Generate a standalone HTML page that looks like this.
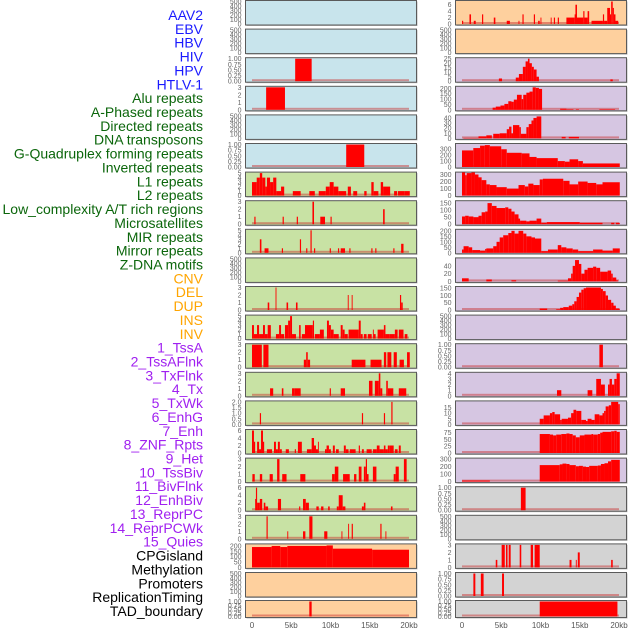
<!DOCTYPE html>
<html><head><meta charset="utf-8"><style>
html,body{margin:0;padding:0;background:#fff;width:630px;height:630px;overflow:hidden}
svg{display:block}
</style></head><body>
<svg id="chart" width="630" height="630" viewBox="0 0 630 630" xmlns="http://www.w3.org/2000/svg"></svg>
<script>
// ---- labels ----
const labels = ["AAV2","EBV","HBV","HIV","HPV","HTLV-1","Alu repeats","A-Phased repeats","Directed repeats","DNA transposons","G-Quadruplex forming repeats","Inverted repeats","L1 repeats","L2 repeats","Low_complexity A/T rich regions","Microsatellites","MIR repeats","Mirror repeats","Z-DNA motifs","CNV","DEL","DUP","INS","INV","1_TssA","2_TssAFlnk","3_TxFlnk","4_Tx","5_TxWk","6_EnhG","7_Enh","8_ZNF_Rpts","9_Het","10_TssBiv","11_BivFlnk","12_EnhBiv","13_ReprPC","14_ReprPCWk","15_Quies","CPGisland","Methylation","Promoters","ReplicationTiming","TAD_boundary"];
const labelGroups = ["v","v","v","v","v","v","r","r","r","r","r","r","r","r","r","r","r","r","r","s","s","s","s","s","c","c","c","c","c","c","c","c","c","c","c","c","c","c","c","k","k","k","k","k"];

// ---- tick label sets ----
const tEmpty = ["0","100","200","300","400","500"];
const tFrac = ["0.00","0.25","0.50","0.75","1.00"];
const t3 = ["0","1","2","3"];
const t4 = ["0","1","2","3","4"];
const t5 = ["0","1","2","3","4","5"];
const t6 = ["0","2","4","6"];
const t2 = ["0.0","0.5","1.0","1.5","2.0"];
const xTicks = [0,5,10,15,20];
const xTickLabels = ["0","5kb","10kb","15kb","20kb"];

// ---- data segments [startKb, endKb, value] ----
const L0=[],L1=[],L4=[],L9=[],L20=[],R1=[],R11=[],R18=[];
const L2=[[5.5,7.6,1]];
const L3=[[1.8,4.2,3]];
const L5=[[12.0,14.3,1]];
const L6=[[0,0.6,3],[0.6,1.0,4],[1.0,1.3,5],[1.3,1.7,4],[1.7,1.9,2],[1.9,2.3,4],[2.3,2.7,3],[2.7,3.1,4],[3.1,3.7,1],[3.7,4.1,2],[5.2,6.2,1],[7.3,8.0,1],[8.5,9.4,1],[9.4,9.9,2],[9.9,10.4,3],[10.4,11.0,2],[11.0,12.0,1],[12.2,12.6,2],[12.9,13.4,1],[14.3,14.6,1],[15.2,15.5,3],[15.5,16.1,1],[16.4,16.7,3],[16.7,17.6,2],[18.1,18.5,1],[18.6,19.4,1],[19.4,20.1,1]];
const L7=[[0.3,0.45,1],[3.9,4.05,1],[5.7,5.85,1],[7.7,7.9,3],[8.7,9.3,1],[10.0,10.15,1],[16.7,16.9,2]];
const L8=[[1.0,1.2,3],[1.6,2.1,1],[3.8,3.95,1],[6.1,6.25,3],[6.9,7.05,1],[7.45,7.6,5],[7.9,8.05,1],[9.9,10.05,1],[10.95,11.1,1],[11.3,11.85,1],[12.4,12.55,1],[15.2,15.35,1],[15.7,15.85,1],[18.0,18.15,1],[19.0,19.3,2]];
const L10=[[2.0,2.2,1],[3.0,3.1,3],[4.4,4.6,1],[5.6,5.8,1],[12.2,12.3,2],[12.7,12.8,2],[18.85,19.0,2],[19.0,19.2,1]];
const L11=[[0,0.25,3],[0.25,0.64,1],[0.64,0.9,3],[0.9,1.4,1],[1.4,1.65,3],[1.65,2.0,1],[2.0,2.4,3],[3.05,3.45,1],[3.45,3.7,3],[3.7,4.1,1],[4.2,4.6,3],[4.6,4.85,4],[4.85,5.1,5],[5.1,5.6,1],[6.0,6.2,3],[6.35,6.75,1],[6.75,7.75,3],[7.75,7.9,4],[8.0,8.65,1],[8.65,9.15,2],[9.55,9.8,4],[9.8,10.05,3],[10.05,10.4,2],[10.4,11.05,1],[11.3,11.55,3],[11.55,11.8,2],[11.8,12.2,1],[12.3,13.6,2],[13.6,13.85,4],[13.85,14.1,1],[14.25,14.6,1],[14.75,15.25,1],[15.4,15.5,2],[15.5,15.75,1],[16.0,16.8,2],[16.8,17.0,3],[17.0,17.55,1],[17.55,18.2,1],[18.2,18.55,2],[18.7,19.3,2],[19.45,19.8,1]];
const L12=[[0,1.25,3],[1.45,2.1,3],[6.6,6.9,1],[6.9,7.1,2],[7.1,7.4,1],[12.7,14.45,1],[15.1,16.5,1],[16.8,17.1,2],[17.25,17.75,2],[18.05,18.45,2],[18.8,19.35,1],[19.75,20.1,2]];
const L13=[[2.3,2.7,1],[3.8,4.0,1],[5.1,5.45,1],[5.45,6.2,1],[9.9,10.05,1],[11.3,11.85,1],[14.9,15.35,2],[15.65,16.15,2],[16.15,16.35,3],[16.35,16.6,1],[17.1,17.3,2],[17.3,18.0,1],[18.7,19.65,1]];
const L14=[[1.0,1.15,1],[14.0,14.15,1],[16.8,16.95,1],[17.75,17.9,2]];
const L15=[[0,0.25,6],[0.25,0.4,3],[0.65,0.9,3],[0.9,1.15,1],[1.15,1.4,6],[1.4,1.55,3],[1.9,2.55,1],[2.8,3.05,3],[3.05,3.3,1],[3.3,3.55,3],[3.55,3.8,1],[4.3,4.7,1],[5.45,5.6,1],[5.85,6.35,3],[7.0,7.6,1],[7.6,7.9,4],[7.9,8.15,2],[8.15,8.4,1],[8.4,8.5,3],[9.3,9.5,1],[9.5,9.8,2],[9.8,10.05,1],[10.3,10.55,2],[10.7,11.05,1],[11.7,11.95,2],[11.95,12.3,1],[12.45,13.2,1],[13.6,13.75,2],[14.0,14.25,1],[14.6,15.25,1],[15.4,15.9,1],[15.9,16.25,2],[16.25,16.8,1],[16.8,17.0,2],[17.0,17.3,1],[17.3,17.55,2],[17.55,18.05,2],[18.2,18.55,1],[18.7,18.95,2]];
const L16=[[0.05,0.35,1],[1.0,1.3,1],[2.25,2.65,1],[3.2,3.5,3],[3.85,4.4,1],[6.15,6.8,1],[10.2,10.55,1],[10.55,11.0,2],[11.6,12.45,1],[13.0,13.3,1],[13.6,13.95,2],[14.25,14.5,2],[14.5,14.65,3],[14.65,14.85,1],[15.4,15.85,2],[18.05,18.3,1],[18.3,18.7,2],[19.35,19.7,3]];
const L17=[[0.4,0.5,3],[0.5,0.65,6],[0.65,1.0,2],[1.0,1.3,3],[1.5,1.7,2],[1.7,2.05,1],[3.3,3.7,3],[6.0,6.15,1],[6.5,6.85,3],[6.85,7.25,2],[8.2,8.5,1],[8.8,9.1,1],[9.7,9.9,1],[10.8,11.05,1],[11.05,11.55,4],[11.55,11.9,1],[14.0,14.25,1],[14.25,14.45,2],[17.7,17.9,1]];
const L18=[[1.85,2.0,3],[4.5,4.6,1],[6.5,6.8,1],[7.3,7.7,3],[9.2,9.6,1],[11.4,11.5,1],[12.25,12.35,2],[12.7,12.85,2],[16.35,16.5,2],[17.0,17.1,1]];
const L19=[[0,2.5,190],[2.5,3.6,200],[3.6,4.5,190],[4.5,9.5,200],[9.5,10.3,205],[10.3,15.3,175],[15.3,20,165]];
const L21=[[7.3,7.6,1]];
const R0=[[0,0.15,1],[0.95,1.15,3],[1.5,1.75,1],[2.55,2.7,3],[4.05,4.25,2],[5.7,6.1,1],[7.2,7.3,1],[7.7,7.85,3],[9.15,9.3,3],[9.7,9.9,1],[10.0,10.1,2],[11.3,11.4,2],[11.7,11.85,2],[12.2,12.35,2],[13.3,14.35,2],[14.35,14.45,3],[14.45,14.65,6],[14.65,15.45,2],[15.45,15.6,4],[15.6,16.0,2],[16.0,16.2,4],[16.5,17.95,1],[17.95,18.1,3],[18.1,18.5,1],[18.5,18.85,5],[18.85,19.0,3],[19.0,19.2,7],[19.2,19.35,5],[19.35,19.55,3],[19.55,19.9,1]];
const R2=[[4.7,5.1,3],[6.85,7.25,4],[7.25,7.75,8],[7.75,8.1,16],[8.1,8.4,22],[8.4,8.6,25],[8.6,8.9,20],[8.9,9.15,16],[9.15,9.5,13],[9.5,9.8,5],[18.9,19.2,2]];
const R3=[[3.9,4.3,20],[4.3,4.9,30],[4.9,5.4,40],[5.4,5.9,55],[5.9,6.3,80],[6.3,6.6,75],[6.6,7.0,95],[7.0,7.6,140],[7.6,7.8,100],[7.8,8.2,140],[8.2,8.6,160],[8.6,9.0,170],[9.0,9.4,210],[9.4,9.8,205],[9.8,10.2,195],[12.5,13.3,10],[13.3,14.2,5],[14.5,14.9,5],[17.5,19.5,5]];
const R4=[[0.17,2.1,1],[2.1,3.1,4],[3.1,3.8,6],[3.98,4.8,9],[4.8,5.7,10],[5.7,6.0,18],[6.0,6.3,23],[6.3,6.5,10],[6.5,7.3,26],[7.3,7.5,22],[7.5,8.2,9],[8.2,8.5,22],[8.5,8.85,28],[8.85,9.1,35],[9.1,9.5,40],[9.5,10.1,43],[12.7,13.2,3],[13.6,14.9,3]];
const R5=[[0,1.44,280],[1.44,2.3,320],[2.3,2.9,360],[2.9,3.55,370],[3.55,5.0,350],[5.0,5.7,300],[5.7,7.6,240],[7.6,8.6,230],[8.6,9.5,170],[9.5,12.2,150],[12.2,13.1,100],[13.1,13.7,90],[13.7,14.8,130],[14.8,15.4,100],[15.4,20.1,60]];
const R6=[[0,0.4,330],[0.4,0.6,290],[0.6,1.2,320],[1.2,1.65,330],[1.65,2.1,300],[2.1,2.5,260],[2.5,3.1,220],[3.1,3.55,160],[3.55,4.4,150],[4.4,5.7,120],[5.7,7.2,100],[7.2,8.0,150],[8.0,8.45,130],[8.45,9.1,170],[9.1,9.9,150],[9.9,10.3,230],[10.3,12.9,240],[12.9,13.7,210],[13.7,14.8,160],[14.8,16.0,200],[16.0,17.1,180],[17.1,17.9,160],[17.9,20.1,190]];
const R7=[[0,0.4,55],[0.4,0.85,60],[0.85,1.45,55],[1.45,2.1,50],[2.1,2.5,60],[2.5,2.95,85],[2.95,3.25,90],[3.25,3.8,150],[3.8,4.4,130],[4.4,5.5,115],[5.5,5.9,120],[5.9,6.3,110],[6.3,6.7,90],[6.7,7.2,70],[7.2,7.4,40],[7.4,8.2,25],[8.2,8.6,20],[8.6,9.5,25],[9.5,10.1,40],[10.1,10.8,10],[10.8,15.0,15],[15.0,17.9,10],[19.0,19.4,10],[19.6,20.1,10]];
const R8=[[0,0.2,30],[0.2,0.85,60],[0.85,1.3,50],[1.3,2.3,25],[2.3,2.95,20],[2.95,3.1,35],[3.1,3.98,40],[3.98,4.4,60],[4.4,4.8,100],[4.8,5.25,140],[5.25,5.9,160],[5.9,6.3,180],[6.3,6.7,200],[6.7,7.2,175],[7.2,7.8,200],[7.8,8.2,175],[8.2,8.85,150],[8.85,9.3,140],[9.3,10.1,130],[10.1,10.95,15],[10.95,12.2,30],[12.2,12.65,70],[12.65,13.3,50],[13.3,14.1,40],[14.1,14.8,30],[14.8,16.7,15],[16.7,17.9,30],[17.9,19.2,20],[19.2,20.1,40]];
const R9=[[0,0.85,8],[3.1,3.8,5],[6.3,6.9,3],[12.2,13.5,2],[13.5,13.9,8],[13.9,14.1,20],[14.1,14.4,40],[14.4,14.9,55],[14.9,15.2,45],[15.2,15.6,20],[15.6,16.0,30],[16.0,16.7,35],[16.7,17.1,38],[17.1,17.6,35],[17.6,18.55,25],[18.55,19.0,28],[19.0,19.2,20],[19.2,19.65,10],[19.65,19.85,3]];
const R10=[[9.9,10.85,10],[12.0,12.5,5],[12.5,12.9,15],[12.9,13.6,20],[13.6,14.05,30],[14.05,14.3,40],[14.3,14.6,60],[14.6,14.9,90],[14.9,15.2,120],[15.2,15.5,140],[15.5,15.8,150],[15.8,17.7,155],[17.7,17.95,145],[17.95,18.3,130],[18.3,18.6,100],[18.6,19.0,70],[19.0,19.3,50],[19.3,19.6,30],[19.6,20.1,10]];
const R12=[[17.5,17.95,1]];
const R13=[[12.1,12.65,1],[16.0,16.6,1],[17.1,17.7,3],[17.7,18.2,2],[18.6,18.8,2],[18.8,19.1,3],[19.1,19.4,2],[19.4,19.7,3],[19.7,20.1,4]];
const R14=[[9.9,10.4,5],[10.4,11.2,8],[11.2,11.5,10],[11.5,11.8,11],[11.8,12.5,9],[12.5,12.7,4],[12.7,13.5,5],[13.5,13.9,6],[13.9,14.2,10],[14.2,14.55,13],[14.55,15.2,12],[15.2,15.8,4],[15.8,16.0,3],[16.0,16.5,5],[16.5,16.9,4],[16.9,17.5,9],[17.5,17.9,8],[17.9,18.1,10],[18.1,18.3,12],[18.3,18.7,16],[18.7,19.0,17],[19.0,19.9,20],[19.9,20.1,18]];
const R15=[[9.9,11.2,70],[11.2,11.6,68],[11.6,12.0,65],[12.0,12.65,68],[12.65,13.3,70],[13.3,13.7,72],[13.7,14.1,70],[14.1,14.5,65],[14.5,15.0,58],[15.0,15.6,65],[15.6,16.5,68],[16.5,16.7,70],[16.7,17.3,68],[17.3,17.6,70],[17.6,17.9,75],[17.9,19.0,78],[19.0,19.4,80],[19.4,19.7,82],[19.7,20.1,78]];
const R16=[[0,3.55,15],[9.9,12.45,220],[12.45,12.8,230],[12.8,13.3,240],[13.3,13.7,235],[13.7,14.5,220],[14.5,14.9,205],[14.9,15.4,210],[15.4,15.8,200],[15.8,16.2,195],[16.2,17.3,210],[17.3,17.7,215],[17.7,18.15,235],[18.15,18.6,245],[18.6,19.0,270],[19.0,20.1,290]];
const R17=[[7.5,8.1,1]];
const R19=[[4.3,4.5,1],[5.05,5.45,3],[5.6,5.8,3],[5.95,6.2,3],[7.35,7.55,3],[8.75,9.05,3],[9.25,9.9,3],[13.7,13.95,1],[14.5,14.6,1],[14.75,15.0,2],[19.0,19.2,1]];
const R20=[[1.45,1.7,1],[2.4,2.75,1],[5.1,5.35,1]];
const R21=[[9.9,19.8,1]];

const leftData=[L0,L1,L2,L3,L4,L5,L6,L7,L8,L9,L10,L11,L12,L13,L14,L15,L16,L17,L18,L19,L20,L21];
const rightData=[R0,R1,R2,R3,R4,R5,R6,R7,R8,R9,R10,R11,R12,R13,R14,R15,R16,R17,R18,R19,R20,R21];
const leftMax=[500,500,1,3,500,1,5,3,5,500,3,5,3,3,2,6,3,6,3,210,500,1];
const rightMax=[7,500,25,210,44,380,320,160,205,58,155,500,1,4,20,83,300,1,500,3,1,1];
const leftTicks=[tEmpty,tEmpty,tFrac,t3,tEmpty,tFrac,t5,t3,t5,tEmpty,t3,t5,t3,t3,t2,t6,t3,t6,t3,["0","50","100","150","200"],tEmpty,tFrac];
const rightTicks=[t6,tEmpty,["0","5","10","15","20","25"],["0","50","100","150","200"],["0","10","20","30","40"],["0","100","200","300"],["0","100","200","300"],["0","50","100","150"],["0","50","100","150","200"],["0","20","40"],["0","50","100","150"],tEmpty,tFrac,t4,["0","5","10","15"],["0","25","50","75"],["0","100","200","300"],tFrac,tEmpty,t3,tFrac,tFrac];

// ---- styles ----
const C={blue:"#c8e4ec",green:"#c8e2a4",orange:"#fed09e",purple:"#d6c6e2",gray:"#d3d3d3"};
const leftBg=[];for(let i=0;i<22;i++)leftBg.push(i<6?C.blue:(i<19?C.green:C.orange));
const rightBg=[];for(let i=0;i<22;i++)rightBg.push(i<2?C.orange:(i<17?C.purple:C.gray));
const groupColor={v:"#1a1aff",r:"#0b660b",s:"#ffa500",c:"#a020f0",k:"#000"};

const NS="http://www.w3.org/2000/svg";
const svg=document.getElementById("chart");
function mk(tag,attrs,parent){const e=document.createElementNS(NS,tag);for(const k in attrs)e.setAttribute(k,attrs[k]);(parent||svg).appendChild(e);return e;}

// labels
labels.forEach((t,i)=>{
  const e=mk("text",{x:203,y:(15+i*13.86+5).toFixed(1),"text-anchor":"end","font-family":"Liberation Sans, sans-serif","font-size":"14",fill:groupColor[labelGroups[i]]});
  e.textContent=t;
  
  
});

function panelGeom(r){return r<21?{y:0.5+r*28.6,h:24.5}:{y:600.5,h:17};}
function drawPanel(col,r,data,ymax,ticks,bg,name){
  const px=col===0?245.5:455.5, x0=col===0?252:462, pxPerKb=157/20;
  const g=panelGeom(r);
  const grp=mk("g",{});
  
  
  mk("rect",{x:px+1,y:g.y+1,width:171,height:g.h,fill:"#bbb"},grp);
  mk("rect",{x:px,y:g.y,width:171,height:g.h,fill:bg,stroke:"#5a5a5a","stroke-width":1},grp);
  const xs=kb=>x0+kb*pxPerKb;
  const base=g.y+g.h-1, top=g.y+1;
  const ys=v=>base-(v/ymax)*(base-top);
  if(data.length){
    const bl=mk("rect",{x:xs(0),y:base-2,width:xs(20)-xs(0),height:2,fill:"rgba(200,40,40,0.45)"},grp);
    
    
  }
  data.forEach(d=>{
    const b=mk("rect",{x:xs(d[0]).toFixed(2),y:ys(d[2]).toFixed(2),width:Math.max(0.9,xs(d[1])-xs(d[0])).toFixed(2),height:(base-ys(d[2])).toFixed(2),fill:"#ff0000"},grp);
    
    
  });
  ticks.forEach(t=>{
    const v=parseFloat(t);
    const tx=mk("text",{x:px-4,y:(ys(v)+2.5).toFixed(1),"text-anchor":"end","font-family":"Liberation Sans, sans-serif","font-size":"7",fill:"#666"},grp);
    tx.textContent=t;
    
    
  });
}
for(let r=0;r<22;r++){
  drawPanel(0,r,leftData[r],leftMax[r],leftTicks[r],leftBg[r],labels[r]);
  drawPanel(1,r,rightData[r],rightMax[r],rightTicks[r],rightBg[r],labels[r+22]);
}
// x axes
[252,462].forEach((x0,ci)=>{
  xTicks.forEach((k,i)=>{
    const t=mk("text",{x:x0+k*157/20,y:628,"text-anchor":"middle","font-family":"Liberation Sans, sans-serif","font-size":"8",fill:"#555"});
    t.textContent=xTickLabels[i];
    
    
  });
});
</script>
</body></html>
